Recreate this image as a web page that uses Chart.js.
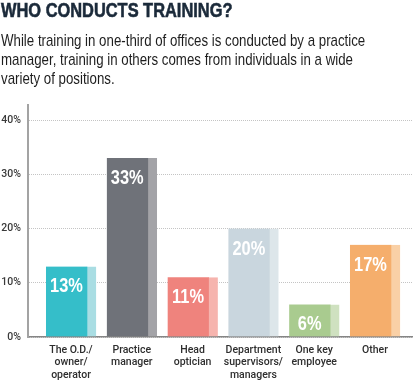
<!DOCTYPE html>
<html><head><meta charset="utf-8">
<script src="https://cdn.jsdelivr.net/npm/chart.js@4"></script>
<style>
html,body{margin:0;padding:0;background:#fff;width:416px;height:382px;overflow:hidden}
#wrap{position:relative;width:416px;height:382px}
canvas{position:absolute;left:0;top:0}
#title{position:absolute;left:1px;top:0;font:bold 20px/20px "Liberation Sans",Arial,sans-serif;color:#1b2a3a;-webkit-text-stroke:0.6px #1b2a3a;white-space:nowrap;transform:scaleX(0.82);transform-origin:0 0}
#sub{position:absolute;left:1px;top:30.5px;font:16.2px/19.2px "Liberation Sans",Arial,sans-serif;color:#1e1e1e;white-space:nowrap;transform:scaleX(0.82);transform-origin:0 0}
</style></head>
<body>
<div id="wrap">
<canvas id="c" width="416" height="382"></canvas>
<div id="title">WHO CONDUCTS TRAINING?</div>
<div id="sub">While training in one-third of offices is conducted by a practice<br>manager, training in others comes from individuals in a wide<br>variety of positions.</div>
</div>
<script>
const categories = [["The O.D./","owner/","operator"],["Practice","manager"],["Head","optician"],["Department","supervisors/","managers"],["One key","employee"],["Other"]];
const values = [13, 33, 11, 20, 6, 17];
const yTicks = [0, 10, 20, 30, 40];
const mainColors = ["#35bec9","#6f7279","#ef837d","#c9d6de","#a9cb8f","#f5ae6c"];
const lightColors = ["#a9dde3","#a3a3a7","#f6b4ae","#dde6ea","#cfe1c0","#f9d0a6"];

const AXFONT = 'Roboto, "Liberation Sans", sans-serif';

const barLabels = {
  id: 'barLabels',
  afterDatasetsDraw(chart) {
    const ctx = chart.ctx;
    const meta = chart.getDatasetMeta(0);
    const bw = chart.data.datasets[0].borderWidth.right;
    ctx.save();
    ctx.font = 'bold 20px "Liberation Sans", Arial, sans-serif';
    ctx.fillStyle = '#ffffff';
    ctx.textAlign = 'center';
    ctx.textBaseline = 'alphabetic';
    meta.data.forEach((bar, i) => {
      const p = bar.getProps(['x', 'y'], true);
      ctx.save();
      ctx.translate(p.x - bw / 2, p.y + 26);
      ctx.scale(0.82, 1);
      ctx.fillText(values[i] + '%', 0, 0);
      ctx.restore();
    });
    ctx.restore();
  }
};

new Chart(document.getElementById('c'), {
  type: 'bar',
  data: {
    datasets: [{
      data: values.map((v, i) => ({ x: i, y: v })),
      backgroundColor: mainColors,
      borderColor: lightColors,
      borderWidth: { top: 0, right: 9, bottom: 0, left: 0 },
      borderSkipped: false,
      barThickness: 50
    }]
  },
  options: {
    responsive: false,
    animation: false,
    events: [],
    layout: { padding: { top: 105, right: 4, left: 0, bottom: 0 } },
    plugins: { legend: { display: false }, tooltip: { enabled: false } },
    scales: {
      x: {
        type: 'linear',
        offset: false,
        min: -0.707,
        max: 5.609,
        afterBuildTicks(s) { s.ticks = categories.map((c, i) => ({ value: i })); },
        afterFit(s) { s.height = 45; },
        grid: { offset: false, drawOnChartArea: false, drawTicks: false },
        border: { display: true, color: '#858585', width: 1.5 },
        ticks: {
          padding: 7, maxRotation: 0, autoSkip: false, color: '#2e2e2e',
          font: { family: AXFONT, size: 10.5, weight: '500', lineHeight: 1.19 },
          callback: (v) => categories[v]
        }
      },
      y: {
        min: 0,
        max: 42.77,
        afterBuildTicks(s) { s.ticks = yTicks.map(v => ({ value: v })); },
        afterFit(s) { s.width = 28; },
        grid: { color: '#c4c4c4', lineWidth: 1, drawTicks: false },
        border: { display: true, color: '#a3a3a3', width: 2, dash: [1, 1] },
        ticks: {
          padding: 7, color: '#3a3a3a',
          font: { family: AXFONT, size: 10.5, weight: '500' },
          callback: (v) => v + '%'
        }
      }
    }
  },
  plugins: [barLabels]
});
</script>
</body></html>
